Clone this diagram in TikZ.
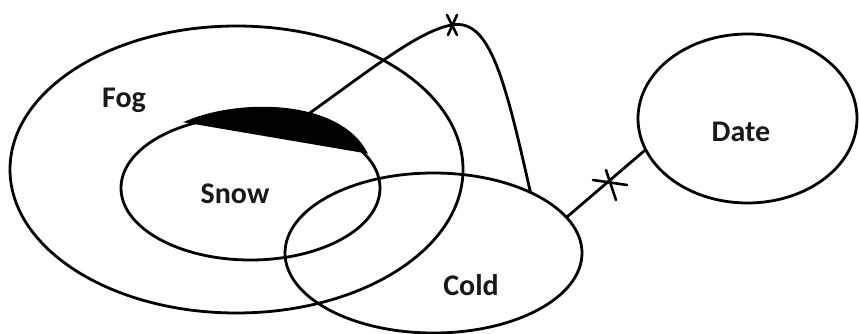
\documentclass[tikz,border=0pt]{standalone}
\usepackage{fontspec}
\setmainfont{Carlito}
\usetikzlibrary{shapes.geometric}
\tikzset{
  setshape/.style={draw, ellipse, line width=2.8pt, inner sep=0pt, outer sep=0pt},
  lbl/.style={anchor=base, font=\bfseries\fontsize{30}{36}\selectfont, text=black!90},
  link/.style={line width=2.8pt},
  crossmark/.style={line width=2.6pt, line cap=round}
}
\begin{document}
\begin{tikzpicture}[x=1pt,y=-1pt]
\useasboundingbox (0,0) rectangle (859,334);
% sets
\node[setshape, minimum width=453pt, minimum height=287pt] (Fog) at (236.5,169.5) {};
\node[setshape, minimum width=259pt, minimum height=144pt] (Snow) at (250.5,188) {};
\node[setshape, minimum width=297pt, minimum height=160pt] (Cold) at (433.5,253) {};
\node[setshape, minimum width=219pt, minimum height=169pt] (Date) at (747.5,118.5) {};
% shaded segment
\coordinate (sL) at (185,122);
\coordinate (sR) at (367,153);
\fill[line width=1pt, draw=black] (sL) .. controls (240,98) and (340,100) .. (sR) -- cycle;
% connector from shaded region to Cold, with mark
\coordinate (s) at (307,115);
\coordinate (m1) at (452,25);
\draw[link] (s) .. controls (370,70) and (420,30) .. (m1)
             .. controls (490,18) and (505,80) .. (Cold.32);
\draw[crossmark] ([shift={(-5,-10)}]m1) -- ([shift={(5,10)}]m1);
\draw[crossmark] ([shift={(5,-10)}]m1) -- ([shift={(-4,10)}]m1);
% connector Cold -- Date, with mark
\draw[link] (Cold.15) -- (Date.197);
\coordinate (m2) at (610,183);
\draw[crossmark] (593,180) -- (627,185);
\draw[crossmark] (606,170) -- (616,200);
% labels
\node[lbl] (tFog) at (124,108) {Fog};
\node[lbl] (tSnow) at (235,203) {Snow};
\node[lbl] (tCold) at (471,295) {Cold};
\node[lbl] (tDate) at (741,142) {Date};
\end{tikzpicture}
\end{document}
